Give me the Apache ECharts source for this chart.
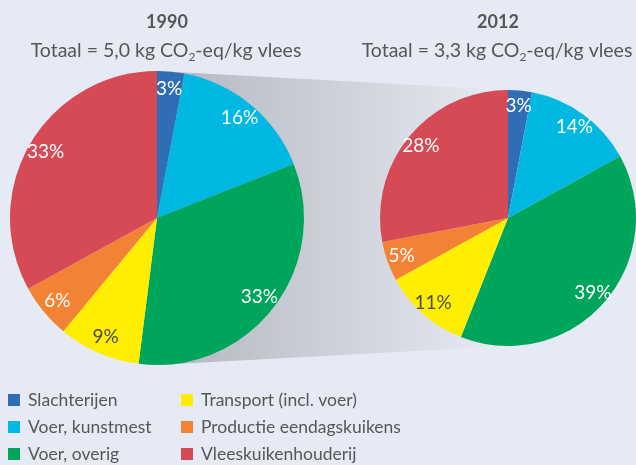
<!DOCTYPE html>
<html lang="nl">
<head>
<meta charset="UTF-8">
<title>Vleeskuikens CO2</title>
<script src="https://cdn.jsdelivr.net/npm/echarts@6/dist/echarts.min.js"></script>
<style>
  html, body { margin: 0; padding: 0; background: #e6eaf5; }
  #main { width: 636px; height: 465px; }
</style>
</head>
<body>
<div id="main"></div>
<script>
var categories = ['Slachterijen', 'Voer, kunstmest', 'Voer, overig', 'Transport (incl. voer)', 'Productie eendagskuikens', 'Vleeskuikenhouderij'];
var colors = ['#2f6db5', '#00b8e2', '#00a55c', '#ffee00', '#f28234', '#d54a55'];
var labelColors = ['#fff', '#fff', '#fff', '#4d4d4d', '#fff', '#fff'];
var values1990 = [3, 16, 33, 9, 6, 33];
var values2012 = [3, 14, 39, 11, 5, 28];

// pie geometry
var c1 = [157, 218], r1 = 147;
var c2 = [508, 218], r2 = 128;

var font = 'Lato, "Noto Sans", sans-serif';
var grey = '#575757';

function makeData(vals, withLabel) {
    return vals.map(function (v, i) {
        var d = { name: categories[i], value: v, itemStyle: { color: colors[i] } };
        if (withLabel) {
            d.itemStyle = { color: 'transparent' };
            d.label = { color: labelColors[i] };
        }
        return d;
    });
}

function mainPie(name, center, r, vals) {
    return {
        name: name, type: 'pie', center: center, radius: [0, r],
        startAngle: 90, clockwise: true, silent: true,
        label: { show: false }, labelLine: { show: false },
        itemStyle: { borderWidth: 0 },
        data: makeData(vals, false)
    };
}

// transparent ring only used to place the labels near the rim
function labelPie(name, center, r, vals) {
    return {
        name: name, type: 'pie', center: center, radius: [r * 0.72, r],
        startAngle: 90, clockwise: true, silent: true,
        label: { show: true, position: 'inside', formatter: '{c}%', fontSize: 19, fontFamily: font },
        labelLine: { show: false },
        data: makeData(vals, true)
    };
}

var richSub = {
    a: { fontSize: 19.5, fontFamily: font, fontWeight: 'normal', color: grey },
    s: { fontSize: 12, fontFamily: font, fontWeight: 'normal', color: grey, padding: [13, 0, 0, 0] }
};
var titleStyle = { fontSize: 18, fontWeight: 'bold', fontFamily: font, color: grey };
var legendText = { fontSize: 17.5, fontFamily: font, color: grey, padding: [0, 0, 0, 3] };

var option = {
    backgroundColor: '#e6eaf5',
    animation: false,
    title: [
        { text: '1990', left: 167, top: 13, padding: 0, textAlign: 'center', textStyle: titleStyle },
        { text: '{a|Totaal = 5,0 kg CO}{s|2}{a|-eq/kg vlees}', left: 166, top: 38, padding: 0, textAlign: 'center', textStyle: { rich: richSub } },
        { text: '2012', left: 498, top: 13, padding: 0, textAlign: 'center', textStyle: titleStyle },
        { text: '{a|Totaal = 3,3 kg CO}{s|2}{a|-eq/kg vlees}', left: 497, top: 38, padding: 0, textAlign: 'center', textStyle: { rich: richSub } }
    ],
    graphic: [{
        type: 'polygon',
        silent: true,
        z: 0,
        shape: { points: [[c1[0], c1[1] - r1], [c2[0], c2[1] - r2], [c2[0], c2[1] + r2], [c1[0], c1[1] + r1]] },
        style: {
            fill: new echarts.graphic.LinearGradient(0, 0, 1, 0, [
                { offset: 0, color: '#b2b6bf' },
                { offset: 1, color: '#e8ebf3' }
            ])
        }
    }],
    legend: [
        {
            orient: 'vertical', left: 8, top: 391, height: 90, padding: 0,
            itemWidth: 12, itemHeight: 12, itemGap: 9,
            icon: 'rect', selectedMode: false, textStyle: legendText,
            data: categories.slice(0, 3)
        },
        {
            orient: 'vertical', left: 181, top: 391, height: 90, padding: 0,
            itemWidth: 12, itemHeight: 12, itemGap: 9,
            icon: 'rect', selectedMode: false, textStyle: legendText,
            data: categories.slice(3)
        }
    ],
    series: [
        mainPie('1990', c1, r1, values1990),
        mainPie('2012', c2, r2, values2012),
        labelPie('1990 labels', c1, r1, values1990),
        labelPie('2012 labels', c2, r2, values2012)
    ]
};

var chart = echarts.init(document.getElementById('main'));
chart.setOption(option);
</script>
</body>
</html>
